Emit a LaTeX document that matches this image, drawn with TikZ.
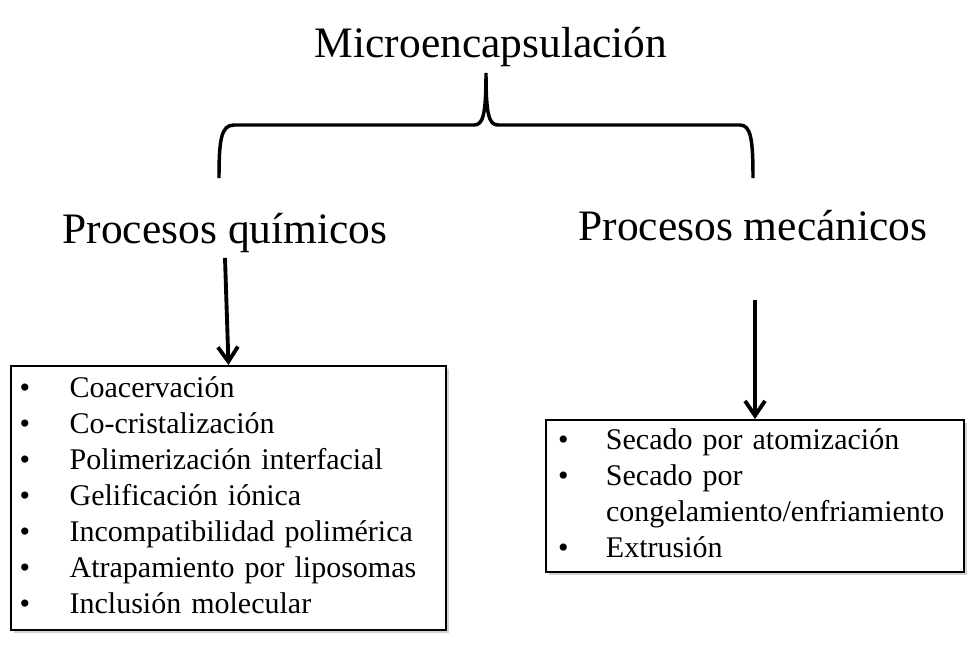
\documentclass[tikz,border=0pt]{standalone}
\usepackage{fontspec}
\setmainfont{Liberation Serif}
\usepackage{tikz}
\usetikzlibrary{calc,positioning,arrows.meta,shadows}
\tikzset{
  heading/.style={font=\fontsize{32.6}{39}\selectfont,inner sep=0pt,anchor=base},
  itembox/.style={rectangle,draw=black,line width=1.5pt,fill=white,anchor=north west,align=left,
    inner ysep=0pt,font=\fontsize{22.5}{27}\selectfont,
    drop shadow={shadow xshift=2pt,shadow yshift=-2pt,opacity=0.35}},
  bracel/.style={line width=2.6pt,black},
  downarr/.style={-{Straight Barb[length=11pt,width=15pt]},line width=2.9pt,black},
}

\begin{document}
\begin{tikzpicture}[x=0.75pt,y=-0.75pt]
  \useasboundingbox (0,0) rectangle (978,650);
  % headings
  \node[heading] (title) at (491,57) {Microencapsulación};
  \node[heading] (quim) at (225,243) {Procesos químicos};
  \node[heading] (mec) at (753,240) {Procesos mecánicos};
  % brace under the title
  \coordinate (tip) at (486,73);
  \coordinate (lend) at (219,178);
  \coordinate (rend) at (753,178);
  \draw[bracel] (lend) .. controls (219,140) and (221,125) .. (234,125) -- (474,125)
    .. controls (483,125) and (486,115) .. (tip)
    .. controls (486,115) and (489,125) .. (498,125) -- (740,125)
    .. controls (751,125) and (753,140) .. (rend);
  % lists
  \node[itembox,minimum width=326.25pt,minimum height=198pt,inner xsep=6.5pt,text width=313.25pt]
    (quimlist) at (10,365) {%
    \begin{tabular}{@{}p{37.5pt}@{}l@{}}
      \textbullet & Coacervación\\
      \textbullet & Co-cristalización\\
      \textbullet & Polimerización interfacial\\
      \textbullet & Gelificación iónica\\
      \textbullet & Incompatibilidad polimérica\\
      \textbullet & Atrapamiento por liposomas\\
      \textbullet & Inclusión molecular
    \end{tabular}};
  \node[itembox,minimum width=313.5pt,minimum height=114pt,inner xsep=9pt,text width=295.5pt]
    (meclist) at (545,419) {%
    \begin{tabular}{@{}p{36pt}@{}l@{}}
      \textbullet & Secado por atomización\\
      \textbullet & Secado por\\
                  & congelamiento/enfriamiento\\
      \textbullet & Extrusión
    \end{tabular}};
  % arrows
  \coordinate (mectop) at (meclist.north |- 0,300);
  \draw[downarr] ([yshift=-4pt]quim.south) -- (quimlist.north);
  \draw[downarr] (mectop) -- (meclist.north);
\end{tikzpicture}
\end{document}
